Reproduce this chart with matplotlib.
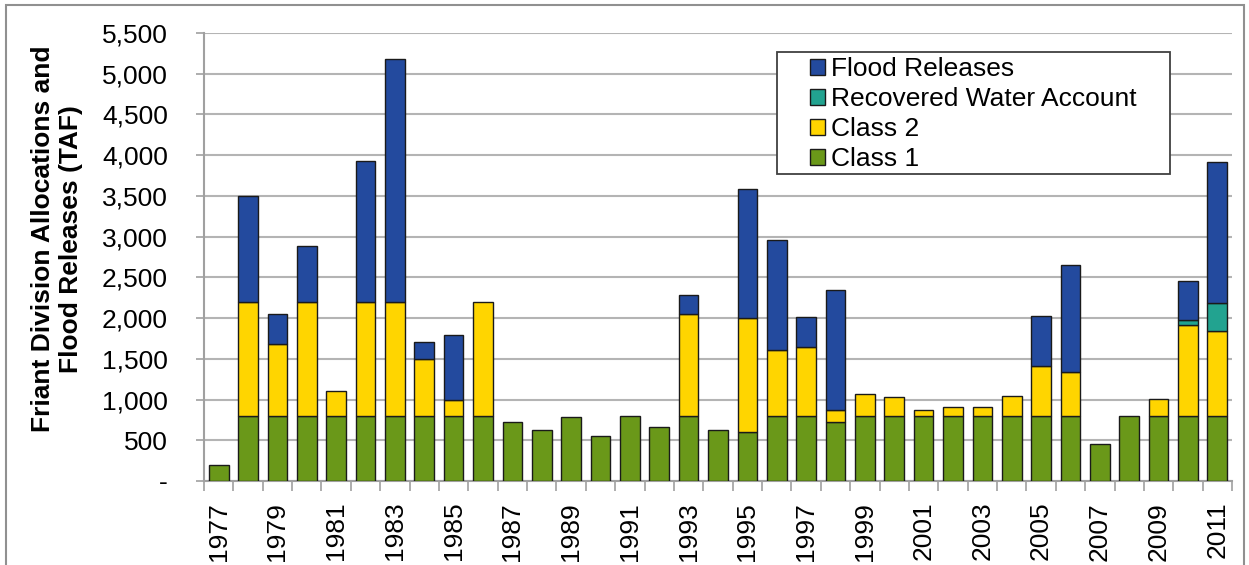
import matplotlib
matplotlib.use("Agg")
import matplotlib.pyplot as plt
from matplotlib.ticker import FuncFormatter, FixedLocator
from matplotlib.patches import Patch, Rectangle
import numpy as np

plt.rcParams['font.family'] = ['Liberation Sans', 'DejaVu Sans']

years = list(range(1977, 2012))
class1 = [200, 800, 800, 800, 800, 800, 800, 800, 800, 800,
          730, 620, 790, 550, 800, 660, 800, 630, 600, 800,
          800, 730, 800, 800, 800, 800, 800, 800, 800, 800,
          460, 800, 800, 800, 800]
class2 = [0, 1400, 880, 1400, 300, 1400, 1400, 700, 190, 1400,
          0, 0, 0, 0, 0, 0, 1250, 0, 1400, 810,
          840, 145, 270, 230, 75, 110, 110, 240, 610, 540,
          0, 0, 210, 1110, 1040]
rwa = [0] * 33 + [70, 340]
flood = [0, 1300, 370, 680, 0, 1730, 2980, 210, 800, 0,
         0, 0, 0, 0, 0, 0, 230, 0, 1590, 1350,
         370, 1475, 0, 0, 0, 0, 0, 0, 610, 1310,
         0, 0, 0, 480, 1740]

tick_years = [str(y) for y in years[::2]]

c_green = '#6A9819'
c_yellow = '#FFD500'
c_teal = '#22A390'
c_blue = '#234A9E'

W, H = 1249, 565
fig = plt.figure(figsize=(W / 100, H / 100), dpi=100)
ax = fig.add_axes([204 / W, (H - 481) / H, (1232 - 204) / W, (481 - 33) / H])

x = np.arange(len(years))
bw = 0.67
ekw = dict(edgecolor='#1a1a1a', linewidth=1.0, zorder=3)
c1 = np.array(class1)
c2 = np.array(class2)
rw = np.array(rwa)
fl = np.array(flood)
ax.bar(x, c1, bw, color=c_green, **ekw)
ax.bar(x[c2 > 0], c2[c2 > 0], bw, bottom=c1[c2 > 0], color=c_yellow, **ekw)
m = rw > 0
ax.bar(x[m], rw[m], bw, bottom=(c1 + c2)[m], color=c_teal, **ekw)
m = fl > 0
ax.bar(x[m], fl[m], bw, bottom=(c1 + c2 + rw)[m], color=c_blue, **ekw)

ax.set_xlim(-0.5, len(years) - 0.5)
ax.set_ylim(0, 5500)
ax.set_yticks(np.arange(0, 5501, 500))
ax.yaxis.set_major_formatter(FuncFormatter(lambda v, p: '-' if v == 0 else f'{v:,.0f}'))
ax.grid(axis='y', color='#B4B4B4', linewidth=1.5, zorder=0)
ax.set_axisbelow(True)

ax.set_xticks(x[::2])
ax.set_xticklabels(tick_years, rotation=90, fontsize=19)
ax.xaxis.set_minor_locator(FixedLocator(np.arange(-0.5, len(years), 1.0)))
ax.tick_params(axis='x', which='major', length=0, pad=15)
ax.tick_params(axis='x', which='minor', length=7, color='#A0A0A0', width=1.2)
ax.tick_params(axis='y', which='major', length=6, color='#A0A0A0', width=1.2,
               labelsize=19, pad=20)

for s in ['top', 'right']:
    ax.spines[s].set_visible(False)
for s in ['left', 'bottom']:
    ax.spines[s].set_color('#A0A0A0')
    ax.spines[s].set_linewidth(1.5)

fig.text(57 / W, 1 - 239 / H, 'Friant Division Allocations and\nFlood Releases (TAF)',
         rotation=90, ha='center', va='center', fontsize=19, fontweight='bold',
         linespacing=1.25)

# legend frame drawn separately
fig.patches.append(Rectangle((777 / W, 1 - 174 / H), (1170 - 777) / W, (174 - 52) / H,
                             transform=fig.transFigure, facecolor='white',
                             edgecolor='#404040', linewidth=1.3, zorder=4))

handles = [Patch(facecolor=c_blue, edgecolor='#1a1a1a', label='Flood Releases'),
           Patch(facecolor=c_teal, edgecolor='#1a1a1a', label='Recovered Water Account'),
           Patch(facecolor=c_yellow, edgecolor='#1a1a1a', label='Class 2'),
           Patch(facecolor=c_green, edgecolor='#1a1a1a', label='Class 1')]
leg = fig.legend(handles=handles, loc='upper left',
                 bbox_to_anchor=(810 / W, 1 - 57 / H), fontsize=19,
                 frameon=False, borderaxespad=0, borderpad=0,
                 handlelength=0.57, handleheight=0.57, handletextpad=0.22,
                 labelspacing=0.23)
leg.set_zorder(5)

fig.patches.append(Rectangle((6 / W, -0.1), (1244 - 6) / W, 1.1 - 5 / H,
                             transform=fig.transFigure, fill=False,
                             edgecolor='#909090', linewidth=1.5))

fig.savefig('out.png', dpi=100)
